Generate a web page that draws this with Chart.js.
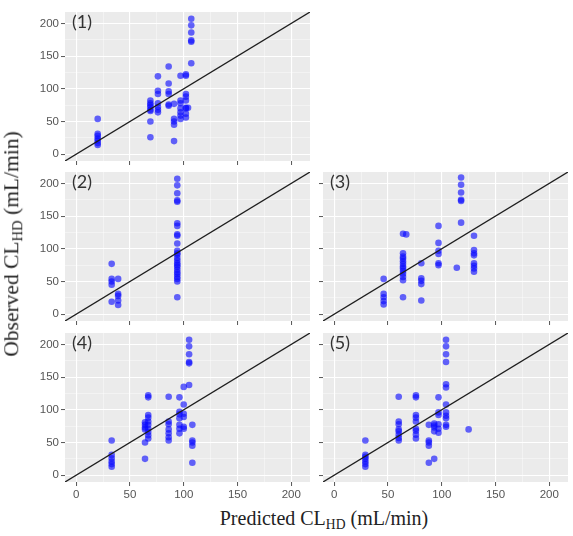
<!DOCTYPE html>
<html><head><meta charset="utf-8">
<script src="https://cdn.jsdelivr.net/npm/chart.js@4"></script>
<style>
html,body{margin:0;padding:0;background:#fff;}
body{width:573px;height:536px;position:relative;overflow:hidden;}
canvas{position:absolute;}
.lab{position:absolute;font-family:Lato,"Liberation Sans",sans-serif;font-size:18px;color:#333;line-height:1;}
.ttl{position:absolute;font-family:"Liberation Serif","DejaVu Serif",serif;font-size:20px;color:#222;white-space:nowrap;line-height:1;}
.ttl sub{font-size:0.68em;vertical-align:-0.28em;line-height:0;}
</style></head><body>
<script>
// ---- data (Predicted CL_HD, Observed CL_HD), mL/min ----
const pred1 = [20,20,20,20,20,20,20, 69,69,69,69,69,69,69,69, 76,76,76,76,76,76,76, 86,86,86,86,86,86, 91,91,91,91,91, 97,97,97,97,97,97,97, 102,102,102,102,102,102,102,102,102, 104, 107,107,107,107,107,107];
const obs1  = [54,31,28,24,21,17,14, 82,78,75,72,68,66,50,26, 119,97,92,78,72,68,64, 134,108,96,92,76,74, 77,54,50,45,20, 120,82,78,70,64,59,54, 122,120,92,88,82,71,70,62,56, 71, 207,197,186,174,172,139];

const pred2 = [33,33,33,33,33, 39,39,39,39,39, 94,94,94,94,94,94,94,94,94,94,94,94,94,94,94,94,94,94,94,94,94,94,94,94,94];
const obs2  = [77,54,50,45,19, 54,31,28,21,14, 207,197,185,174,172,139,135,122,120,108,97,93,91,86,82,78,75,72,68,64,61,57,54,50,26];

const pred3 = [46,46,46,46,46, 64,64,64,64,64,64,64,64,64,64,64,64,64, 67, 81,81,81,81,81, 97,97,97,97,97,97, 114, 118,118,118,118,118,118, 130,130,130,130,130,130,130,130];
const obs3  = [54,31,26,20,15, 123,93,88,85,81,77,73,70,66,62,57,52,26, 122, 78,55,51,46,21, 135,109,97,92,78,75, 71, 209,198,186,175,173,140, 120,98,93,90,78,74,70,65];

const pred4 = [33,33,33,33,33,33, 64,64,64,64,64,64, 67,67,67,67,67,67,67,67,67,67, 86,86,86,86,86,86,86, 96,96,96,96,96,96,96, 100,100,100,100,100,100, 105,105,105,105,105,105, 108,108,108,108,108];
const obs4  = [53,31,26,21,17,13, 81,77,73,70,50,25, 122,119,92,88,82,77,71,66,61,56, 120,82,78,70,64,58,53, 119,97,93,87,77,71,64, 135,108,94,89,74,71, 207,197,185,173,171,138, 77,53,50,45,19];

const pred5 = [29,29,29,29,29,29,29, 60,60,60,60,60,60,60,60, 76,76,76,76,76,76,76,76,76, 88,88,88,88,88, 93,93,93,93,93, 97,97,97,97,97,97, 104,104,104,104,104,104,104,104,104,104,104,104, 125];
const obs5  = [53,31,28,25,21,17,13, 120,82,78,70,67,62,57,53, 122,119,92,88,82,71,68,62,56, 77,53,50,45,19, 79,76,73,67,25, 119,96,92,78,71,65, 207,197,185,173,139,134,108,96,91,87,77,74, 70];

const panelNames = ["(1)","(2)","(3)","(4)","(5)"];
const tickValues = [0,25,50,75,100,125,150,175,200];   // major at multiples of 50
const axisRange = [-10.4, 217.4];
const identityLine = [-10.4, 217.4];

// ---- layout ----
const PLOT_H = 153;
const panels = [
  {name:panelNames[0], px:pred1, oy:obs1, left:10,  yW:55, w:304, top:8,   xH:5,  xLab:false, yLab:true},
  {name:panelNames[1], px:pred2, oy:obs2, left:10,  yW:55, w:304, top:168, xH:5,  xLab:false, yLab:true},
  {name:panelNames[2], px:pred3, oy:obs3, left:312, yW:11, w:260, top:168, xH:5,  xLab:false, yLab:false},
  {name:panelNames[3], px:pred4, oy:obs4, left:10,  yW:55, w:304, top:329, xH:22, xLab:true,  yLab:true},
  {name:panelNames[4], px:pred5, oy:obs5, left:312, yW:11, w:260, top:329, xH:22, xLab:true,  yLab:false},
];

const bgPlugin = {
  id:'panelBg',
  beforeDraw(chart){
    const {ctx, chartArea:a} = chart;
    ctx.save(); ctx.fillStyle = '#EBEBEB';
    ctx.fillRect(a.left, a.top, a.right - a.left, a.bottom - a.top);
    ctx.restore();
  }
};

function isMajor(v){ return v % 50 === 0; }

function axisOpts(showLabels, fitFn){
  return {
    type:'linear', min:axisRange[0], max:axisRange[1],
    afterBuildTicks(s){ s.ticks = tickValues.map(v => ({value:v})); },
    afterFit(s){ fitFn(s); s.paddingTop = 0; s.paddingBottom = 0; s.paddingLeft = 0; s.paddingRight = 0; },
    border:{display:false},
    grid:{
      color: c => (c.tick && isMajor(c.tick.value)) ? '#FFFFFF' : 'rgba(255,255,255,0.75)',
      lineWidth: c => (c.tick && isMajor(c.tick.value)) ? 1.1 : 0.55,
      drawTicks:true, tickLength:4,
      tickColor: c => (c.tick && isMajor(c.tick.value)) ? '#555' : 'rgba(0,0,0,0)',
      tickWidth:1
    },
    ticks:{
      autoSkip:false, maxRotation:0, padding:2,
      color:'#555', font:{family:'"Liberation Sans", Arial, sans-serif', size:11.5},
      callback: v => (showLabels && isMajor(v)) ? String(v) : ''
    }
  };
}

panels.forEach((p, i) => {
  const cv = document.createElement('canvas');
  const h = PLOT_H + p.xH;
  cv.width = p.w; cv.height = h;
  cv.style.left = p.left + 'px'; cv.style.top = p.top + 'px';
  cv.style.width = p.w + 'px'; cv.style.height = h + 'px';
  document.body.appendChild(cv);

  const pts = p.px.map((x, k) => ({x:x, y:p.oy[k]}));
  new Chart(cv.getContext('2d'), {
    type:'scatter',
    data:{datasets:[
      {type:'line', data:[{x:identityLine[0], y:identityLine[0]},{x:identityLine[1], y:identityLine[1]}],
       borderColor:'#1E1E1E', borderWidth:1.3, pointRadius:0, fill:false, order:0},
      {type:'scatter', data:pts, pointRadius:3.3, backgroundColor:'rgba(10,10,255,0.62)',
       borderWidth:0, order:1}
    ]},
    plugins:[bgPlugin],
    options:{
      responsive:false, animation:false, events:[], devicePixelRatio:1,
      layout:{padding:0},
      plugins:{legend:{display:false}, tooltip:{enabled:false}, title:{display:false}},
      scales:{
        x: axisOpts(p.xLab, s => { s.height = p.xH; }),
        y: axisOpts(p.yLab, s => { s.width = p.yW; })
      }
    }
  });

  const lab = document.createElement('div');
  lab.className = 'lab';
  lab.textContent = p.name;
  lab.style.left = (p.left + p.yW + 7) + 'px';
  lab.style.top = (p.top + 4) + 'px';
  document.body.appendChild(lab);
});

const xt = document.createElement('div');
xt.className = 'ttl';
xt.innerHTML = 'Predicted CL<sub>HD</sub> (mL/min)';
xt.style.left = '324px'; xt.style.top = '518px';
xt.style.transform = 'translate(-50%,-50%)';
document.body.appendChild(xt);

const yt = document.createElement('div');
yt.className = 'ttl';
yt.style.fontSize = '21.5px';
yt.innerHTML = 'Observed CL<sub>HD</sub> (mL/min)';
yt.style.left = '12px'; yt.style.top = '244px';
yt.style.transform = 'translate(-50%,-50%) rotate(-90deg)';
document.body.appendChild(yt);
</script>
</body></html>
